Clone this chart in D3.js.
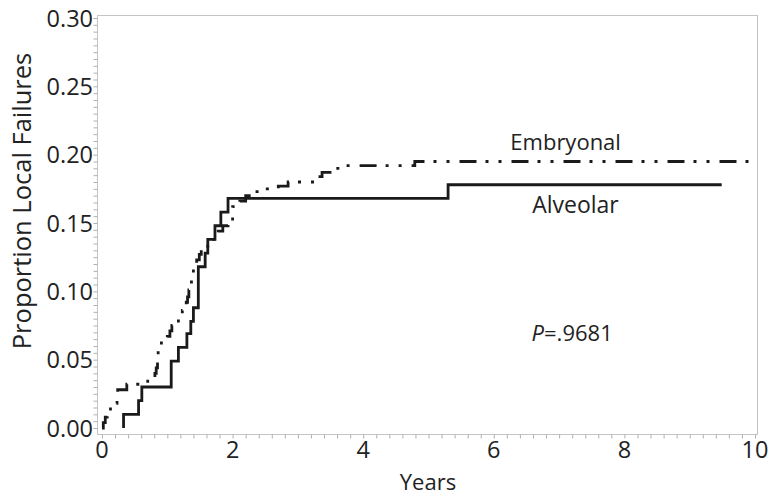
<!DOCTYPE html>
<html>
<head>
<meta charset="utf-8">
<script src="https://cdn.jsdelivr.net/npm/d3@7"></script>
<style>
  body { margin: 0; background: #fff; }
  text { font-family: "Open Sans", sans-serif; fill: #222; }
</style>
</head>
<body>
<svg id="chart" width="773" height="498"></svg>
<script>
// Alveolar (solid) step curve
const alvTimes = [0.33, 0.33, 0.56, 0.61, 1.06, 1.17, 1.30, 1.36, 1.40, 1.475, 1.58, 1.62, 1.73, 1.82, 1.93, 5.30, 9.49];
const alvProps = [0, 0.010, 0.020, 0.030, 0.049, 0.059, 0.069, 0.078, 0.088, 0.118, 0.128, 0.138, 0.148, 0.158, 0.168, 0.178, 0.178];

// Embryonal (dash-dot-dot) step curve
const embTimes = [0, 0.02, 0.05, 0.08, 0.13, 0.23, 0.24, 0.38, 0.70, 0.81, 0.83, 0.85, 0.86, 0.91, 1.00, 1.04, 1.07, 1.17, 1.23, 1.29, 1.31, 1.33, 1.37, 1.40, 1.45, 1.49, 1.52, 1.62, 1.78, 1.85, 1.93, 2.00, 2.11, 2.20, 2.35, 2.50, 2.70, 2.85, 3.30, 3.37, 3.55, 3.65, 4.79, 10.0];
const embProps = [0, 0.004, 0.008, 0.012, 0.018, 0.021, 0.028, 0.032, 0.036, 0.040, 0.044, 0.050, 0.058, 0.064, 0.067, 0.071, 0.075, 0.080, 0.086, 0.092, 0.096, 0.101, 0.111, 0.118, 0.123, 0.127, 0.131, 0.138, 0.144, 0.148, 0.151, 0.162, 0.166, 0.170, 0.173, 0.175, 0.177, 0.180, 0.184, 0.187, 0.190, 0.192, 0.195, 0.195];

const xTicks = [0, 2, 4, 6, 8, 10];
const yTicks = [0, 0.05, 0.10, 0.15, 0.20, 0.25, 0.30];

const svg = d3.select('#chart');

// frame box
const frame = {left: 97, right: 757, top: 15, bottom: 434};

const x = d3.scaleLinear().domain([0, 10]).range([102, 755]);
const y = d3.scaleLinear().domain([0, 0.30]).range([428, 18]);

svg.append('rect')
	.attr('x', frame.left + 0.5).attr('y', frame.top + 0.5)
	.attr('width', frame.right - frame.left).attr('height', frame.bottom - frame.top)
	.attr('fill', 'none').attr('stroke', '#c4c4c4').attr('stroke-width', 1);

// x axis: major + minor ticks
const xAxis = svg.append('g').attr('transform', `translate(0,${frame.bottom + 0.5})`)
	.call(d3.axisBottom(x).tickValues(d3.range(0, 10.001, 0.2)).tickSize(4).tickFormat(''));
xAxis.select('.domain').remove();
xAxis.selectAll('line').attr('stroke', '#b0b0b0');

svg.append('g').selectAll('text').data(xTicks).join('text')
	.attr('x', d => x(d)).attr('y', 458)
	.attr('text-anchor', 'middle').attr('font-size', 23.5)
	.text(d => d);

// y axis: major + minor ticks
const yAxis = svg.append('g').attr('transform', `translate(${frame.left + 0.5},0)`)
	.call(d3.axisLeft(y).tickValues(d3.range(0, 0.3001, 0.005)).tickSize(4).tickFormat(''));
yAxis.select('.domain').remove();
yAxis.selectAll('line').attr('stroke', '#b0b0b0');

svg.append('g').selectAll('text').data(yTicks).join('text')
	.attr('x', 93).attr('y', d => y(d) + 8.5)
	.attr('text-anchor', 'end').attr('font-size', 23.5)
	.text(d => d3.format('.2f')(d));

// axis titles
svg.append('text').attr('x', 428).attr('y', 490)
	.attr('text-anchor', 'middle').attr('font-size', 22).text('Years');
svg.append('text').attr('transform', 'translate(31,201) rotate(-90)')
	.attr('text-anchor', 'middle').attr('font-size', 25.5).text('Proportion Local Failures');

// curves
const line = d3.line().curve(d3.curveStepAfter).x(d => x(d[0])).y(d => y(d[1]));

svg.append('path')
	.datum(d3.zip(embTimes, embProps))
	.attr('d', line)
	.attr('fill', 'none').attr('stroke', '#1a1a1a').attr('stroke-width', 2.8)
	.attr('stroke-dasharray', '17,9,3,10,3,10');

svg.append('path')
	.datum(d3.zip(alvTimes, alvProps))
	.attr('d', line)
	.attr('fill', 'none').attr('stroke', '#1a1a1a').attr('stroke-width', 2.8);

// annotations
svg.append('text').attr('x', x(7.1)).attr('y', y(0.205) + 2)
	.attr('text-anchor', 'middle').attr('font-size', 22).text('Embryonal');
svg.append('text').attr('x', x(7.25)).attr('y', y(0.158) + 1)
	.attr('text-anchor', 'middle').attr('font-size', 23).text('Alveolar');

const pText = svg.append('text').attr('x', x(7.2)).attr('y', y(0.07) + 9)
	.attr('text-anchor', 'middle').attr('font-size', 22);
pText.append('tspan').attr('font-style', 'italic').text('P');
pText.append('tspan').text('=.9681');
</script>
</body>
</html>
